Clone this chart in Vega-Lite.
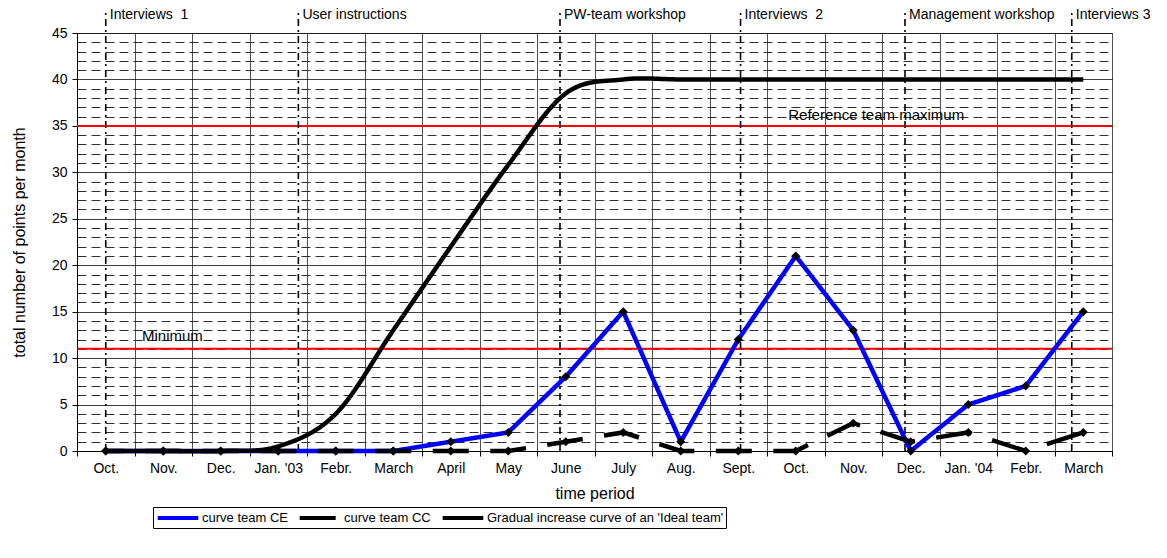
{
  "$schema": "https://vega.github.io/schema/vega-lite/v6.json",
  "autosize": {"type": "none"},
  "width": 1035,
  "height": 418,
  "padding": {"left": 77, "top": 33, "right": 55, "bottom": 107},
  "background": "white",
  "config": {
    "font": "Liberation Sans",
    "view": {"stroke": "#808080", "strokeWidth": 1},
    "text": {"font": "Liberation Sans", "color": "black"},
    "axis": {
      "titleFontSize": 16, "titleFontWeight": "normal", "titleColor": "black",
      "labelFontSize": 14, "labelColor": "black", "labelPadding": 5, "labelOverlap": false, "labelFlush": false,
      "domainColor": "black", "domainWidth": 1, "tickColor": "black", "tickSize": 5, "gridWidth": 1
    }
  },
  "datasets": {
    "series": [
      {"m": 0, "series": "curve team CE", "v": 0},
      {"m": 1, "series": "curve team CE", "v": 0},
      {"m": 2, "series": "curve team CE", "v": 0},
      {"m": 3, "series": "curve team CE", "v": 0},
      {"m": 4, "series": "curve team CE", "v": 0},
      {"m": 5, "series": "curve team CE", "v": 0},
      {"m": 6, "series": "curve team CE", "v": 1},
      {"m": 7, "series": "curve team CE", "v": 2},
      {"m": 8, "series": "curve team CE", "v": 8},
      {"m": 9, "series": "curve team CE", "v": 15},
      {"m": 10, "series": "curve team CE", "v": 1},
      {"m": 11, "series": "curve team CE", "v": 12},
      {"m": 12, "series": "curve team CE", "v": 21},
      {"m": 13, "series": "curve team CE", "v": 13},
      {"m": 14, "series": "curve team CE", "v": 0},
      {"m": 15, "series": "curve team CE", "v": 5},
      {"m": 16, "series": "curve team CE", "v": 7},
      {"m": 17, "series": "curve team CE", "v": 15},
      {"m": 0, "series": "curve team CC", "v": 0},
      {"m": 1, "series": "curve team CC", "v": 0},
      {"m": 2, "series": "curve team CC", "v": 0},
      {"m": 3, "series": "curve team CC", "v": 0},
      {"m": 4, "series": "curve team CC", "v": 0},
      {"m": 5, "series": "curve team CC", "v": 0},
      {"m": 6, "series": "curve team CC", "v": 0},
      {"m": 7, "series": "curve team CC", "v": 0},
      {"m": 8, "series": "curve team CC", "v": 1},
      {"m": 9, "series": "curve team CC", "v": 2},
      {"m": 10, "series": "curve team CC", "v": 0},
      {"m": 11, "series": "curve team CC", "v": 0},
      {"m": 12, "series": "curve team CC", "v": 0},
      {"m": 13, "series": "curve team CC", "v": 3},
      {"m": 14, "series": "curve team CC", "v": 1},
      {"m": 15, "series": "curve team CC", "v": 2},
      {"m": 16, "series": "curve team CC", "v": 0},
      {"m": 17, "series": "curve team CC", "v": 2},
      {"m": 0, "series": "Gradual increase curve of an 'Ideal team'", "v": 0},
      {"m": 1, "series": "Gradual increase curve of an 'Ideal team'", "v": 0},
      {"m": 2, "series": "Gradual increase curve of an 'Ideal team'", "v": 0},
      {"m": 3, "series": "Gradual increase curve of an 'Ideal team'", "v": 0.5},
      {"m": 4, "series": "Gradual increase curve of an 'Ideal team'", "v": 4},
      {"m": 5, "series": "Gradual increase curve of an 'Ideal team'", "v": 13},
      {"m": 6, "series": "Gradual increase curve of an 'Ideal team'", "v": 22},
      {"m": 7, "series": "Gradual increase curve of an 'Ideal team'", "v": 30.8},
      {"m": 8, "series": "Gradual increase curve of an 'Ideal team'", "v": 38.5},
      {"m": 9, "series": "Gradual increase curve of an 'Ideal team'", "v": 40},
      {"m": 10, "series": "Gradual increase curve of an 'Ideal team'", "v": 40},
      {"m": 11, "series": "Gradual increase curve of an 'Ideal team'", "v": 40},
      {"m": 12, "series": "Gradual increase curve of an 'Ideal team'", "v": 40},
      {"m": 13, "series": "Gradual increase curve of an 'Ideal team'", "v": 40},
      {"m": 14, "series": "Gradual increase curve of an 'Ideal team'", "v": 40},
      {"m": 15, "series": "Gradual increase curve of an 'Ideal team'", "v": 40},
      {"m": 16, "series": "Gradual increase curve of an 'Ideal team'", "v": 40},
      {"m": 17, "series": "Gradual increase curve of an 'Ideal team'", "v": 40}
    ],
    "events": [
      {"pos": 0, "label": "Interviews \u00a01"},
      {"pos": 3.35, "label": "User instructions"},
      {"pos": 7.9, "label": "PW-team workshop"},
      {"pos": 11.04, "label": "Interviews \u00a02"},
      {"pos": 13.9, "label": "Management workshop"},
      {"pos": 16.8, "label": "Interviews 3"}
    ],
    "refs": [
      {"level": 35, "label": "Reference team maximum"},
      {"level": 11, "label": "Minimum"}
    ]
  },
  "layer": [
    {
      "data": {"name": "refs"},
      "mark": {"type": "rule", "color": "#FF0000", "strokeWidth": 2},
      "encoding": {
        "y": {"field": "level", "type": "quantitative", "scale": {"domain": [0, 45], "nice": false, "zero": false},
          "axis": {"title": "total number of points per month", "titlePadding": 24,
            "values": [0, 1, 2, 3, 4, 5, 6, 7, 8, 9, 10, 11, 12, 13, 14, 15, 16, 17, 18, 19, 20, 21, 22, 23, 24, 25, 26, 27, 28, 29, 30, 31, 32, 33, 34, 35, 36, 37, 38, 39, 40, 41, 42, 43, 44, 45],
            "labelExpr": "datum.value % 5 === 0 ? datum.label : ''",
            "tickOpacity": {"condition": {"test": "datum.value % 5 === 0", "value": 1}, "value": 0},
            "grid": true,
            "gridColor": {"condition": {"test": "datum.value % 5 === 0", "value": "#000000"}, "value": "#303030"},
            "gridDash": {"condition": {"test": "datum.value % 5 === 0", "value": [1, 0]}, "value": [9, 5]}}}
      }
    },
    {
      "data": {"name": "refs"},
      "transform": [{"filter": "datum.level === 35"}],
      "mark": {"type": "text", "fontSize": 15, "align": "left", "baseline": "alphabetic", "dy": -6},
      "encoding": {
        "x": {"datum": 11.87, "type": "quantitative", "scale": {"domain": [-0.5, 17.5], "nice": false, "zero": false},
          "axis": {"title": "time period", "titlePadding": 10,
            "values": [-0.5, 0, 0.5, 1, 1.5, 2, 2.5, 3, 3.5, 4, 4.5, 5, 5.5, 6, 6.5, 7, 7.5, 8, 8.5, 9, 9.5, 10, 10.5, 11, 11.5, 12, 12.5, 13, 13.5, 14, 14.5, 15, 15.5, 16, 16.5, 17, 17.5],
            "labelExpr": "datum.value % 1 === 0 ? ['Oct.','Nov.','Dec.',\"Jan. '03\",'Febr.','March','April','May','June','July','Aug.','Sept.','Oct.','Nov.','Dec.',\"Jan. '04\",'Febr.','March'][datum.value] : ''",
            "tickOpacity": {"condition": {"test": "datum.value % 1 === 0", "value": 0}, "value": 1},
            "grid": true, "gridColor": "#505050",
            "gridOpacity": {"condition": {"test": "datum.value % 1 === 0", "value": 0}, "value": 1}}},
        "y": {"field": "level", "type": "quantitative", "scale": {"domain": [0, 45], "nice": false, "zero": false},
          "axis": {"title": "total number of points per month", "titlePadding": 24,
            "values": [0, 1, 2, 3, 4, 5, 6, 7, 8, 9, 10, 11, 12, 13, 14, 15, 16, 17, 18, 19, 20, 21, 22, 23, 24, 25, 26, 27, 28, 29, 30, 31, 32, 33, 34, 35, 36, 37, 38, 39, 40, 41, 42, 43, 44, 45],
            "labelExpr": "datum.value % 5 === 0 ? datum.label : ''",
            "tickOpacity": {"condition": {"test": "datum.value % 5 === 0", "value": 1}, "value": 0},
            "grid": true,
            "gridColor": {"condition": {"test": "datum.value % 5 === 0", "value": "#000000"}, "value": "#303030"},
            "gridDash": {"condition": {"test": "datum.value % 5 === 0", "value": [1, 0]}, "value": [9, 5]}}},
        "text": {"field": "label"}
      }
    },
    {
      "data": {"name": "refs"},
      "transform": [{"filter": "datum.level === 11"}],
      "mark": {"type": "text", "fontSize": 15, "align": "left", "baseline": "alphabetic", "dy": -8},
      "encoding": {
        "x": {"datum": 0.63, "type": "quantitative", "scale": {"domain": [-0.5, 17.5], "nice": false, "zero": false},
          "axis": {"title": "time period", "titlePadding": 10,
            "values": [-0.5, 0, 0.5, 1, 1.5, 2, 2.5, 3, 3.5, 4, 4.5, 5, 5.5, 6, 6.5, 7, 7.5, 8, 8.5, 9, 9.5, 10, 10.5, 11, 11.5, 12, 12.5, 13, 13.5, 14, 14.5, 15, 15.5, 16, 16.5, 17, 17.5],
            "labelExpr": "datum.value % 1 === 0 ? ['Oct.','Nov.','Dec.',\"Jan. '03\",'Febr.','March','April','May','June','July','Aug.','Sept.','Oct.','Nov.','Dec.',\"Jan. '04\",'Febr.','March'][datum.value] : ''",
            "tickOpacity": {"condition": {"test": "datum.value % 1 === 0", "value": 0}, "value": 1},
            "grid": true, "gridColor": "#505050",
            "gridOpacity": {"condition": {"test": "datum.value % 1 === 0", "value": 0}, "value": 1}}},
        "y": {"field": "level", "type": "quantitative", "scale": {"domain": [0, 45], "nice": false, "zero": false},
          "axis": {"title": "total number of points per month", "titlePadding": 24,
            "values": [0, 1, 2, 3, 4, 5, 6, 7, 8, 9, 10, 11, 12, 13, 14, 15, 16, 17, 18, 19, 20, 21, 22, 23, 24, 25, 26, 27, 28, 29, 30, 31, 32, 33, 34, 35, 36, 37, 38, 39, 40, 41, 42, 43, 44, 45],
            "labelExpr": "datum.value % 5 === 0 ? datum.label : ''",
            "tickOpacity": {"condition": {"test": "datum.value % 5 === 0", "value": 1}, "value": 0},
            "grid": true,
            "gridColor": {"condition": {"test": "datum.value % 5 === 0", "value": "#000000"}, "value": "#303030"},
            "gridDash": {"condition": {"test": "datum.value % 5 === 0", "value": [1, 0]}, "value": [9, 5]}}},
        "text": {"field": "label"}
      }
    },
    {
      "data": {"name": "events"},
      "mark": {"type": "rule", "color": "black", "strokeWidth": 1.6, "strokeDash": [7, 4, 2, 4]},
      "encoding": {
        "x": {"field": "pos", "type": "quantitative", "scale": {"domain": [-0.5, 17.5], "nice": false, "zero": false},
          "axis": {"title": "time period", "titlePadding": 10,
            "values": [-0.5, 0, 0.5, 1, 1.5, 2, 2.5, 3, 3.5, 4, 4.5, 5, 5.5, 6, 6.5, 7, 7.5, 8, 8.5, 9, 9.5, 10, 10.5, 11, 11.5, 12, 12.5, 13, 13.5, 14, 14.5, 15, 15.5, 16, 16.5, 17, 17.5],
            "labelExpr": "datum.value % 1 === 0 ? ['Oct.','Nov.','Dec.',\"Jan. '03\",'Febr.','March','April','May','June','July','Aug.','Sept.','Oct.','Nov.','Dec.',\"Jan. '04\",'Febr.','March'][datum.value] : ''",
            "tickOpacity": {"condition": {"test": "datum.value % 1 === 0", "value": 0}, "value": 1},
            "grid": true, "gridColor": "#505050",
            "gridOpacity": {"condition": {"test": "datum.value % 1 === 0", "value": 0}, "value": 1}}},
        "y": {"datum": 0, "type": "quantitative", "scale": {"domain": [0, 45], "nice": false, "zero": false},
          "axis": {"title": "total number of points per month", "titlePadding": 24,
            "values": [0, 1, 2, 3, 4, 5, 6, 7, 8, 9, 10, 11, 12, 13, 14, 15, 16, 17, 18, 19, 20, 21, 22, 23, 24, 25, 26, 27, 28, 29, 30, 31, 32, 33, 34, 35, 36, 37, 38, 39, 40, 41, 42, 43, 44, 45],
            "labelExpr": "datum.value % 5 === 0 ? datum.label : ''",
            "tickOpacity": {"condition": {"test": "datum.value % 5 === 0", "value": 1}, "value": 0},
            "grid": true,
            "gridColor": {"condition": {"test": "datum.value % 5 === 0", "value": "#000000"}, "value": "#303030"},
            "gridDash": {"condition": {"test": "datum.value % 5 === 0", "value": [1, 0]}, "value": [9, 5]}}},
        "y2": {"datum": 47.15}
      }
    },
    {
      "data": {"name": "events"},
      "mark": {"type": "text", "fontSize": 14, "align": "left", "baseline": "middle", "dx": 4},
      "encoding": {
        "x": {"field": "pos", "type": "quantitative", "scale": {"domain": [-0.5, 17.5], "nice": false, "zero": false},
          "axis": {"title": "time period", "titlePadding": 10,
            "values": [-0.5, 0, 0.5, 1, 1.5, 2, 2.5, 3, 3.5, 4, 4.5, 5, 5.5, 6, 6.5, 7, 7.5, 8, 8.5, 9, 9.5, 10, 10.5, 11, 11.5, 12, 12.5, 13, 13.5, 14, 14.5, 15, 15.5, 16, 16.5, 17, 17.5],
            "labelExpr": "datum.value % 1 === 0 ? ['Oct.','Nov.','Dec.',\"Jan. '03\",'Febr.','March','April','May','June','July','Aug.','Sept.','Oct.','Nov.','Dec.',\"Jan. '04\",'Febr.','March'][datum.value] : ''",
            "tickOpacity": {"condition": {"test": "datum.value % 1 === 0", "value": 0}, "value": 1},
            "grid": true, "gridColor": "#505050",
            "gridOpacity": {"condition": {"test": "datum.value % 1 === 0", "value": 0}, "value": 1}}},
        "y": {"datum": 46.9, "type": "quantitative", "scale": {"domain": [0, 45], "nice": false, "zero": false},
          "axis": {"title": "total number of points per month", "titlePadding": 24,
            "values": [0, 1, 2, 3, 4, 5, 6, 7, 8, 9, 10, 11, 12, 13, 14, 15, 16, 17, 18, 19, 20, 21, 22, 23, 24, 25, 26, 27, 28, 29, 30, 31, 32, 33, 34, 35, 36, 37, 38, 39, 40, 41, 42, 43, 44, 45],
            "labelExpr": "datum.value % 5 === 0 ? datum.label : ''",
            "tickOpacity": {"condition": {"test": "datum.value % 5 === 0", "value": 1}, "value": 0},
            "grid": true,
            "gridColor": {"condition": {"test": "datum.value % 5 === 0", "value": "#000000"}, "value": "#303030"},
            "gridDash": {"condition": {"test": "datum.value % 5 === 0", "value": [1, 0]}, "value": [9, 5]}}},
        "text": {"field": "label"}
      }
    },
    {
      "data": {"name": "series"},
      "mark": {"type": "line", "strokeWidth": 4.5, "strokeCap": "butt"},
      "transform": [{"filter": "datum.series === 'curve team CE'"}],
      "encoding": {
        "x": {"field": "m", "type": "quantitative", "scale": {"domain": [-0.5, 17.5], "nice": false, "zero": false},
          "axis": {"title": "time period", "titlePadding": 10,
            "values": [-0.5, 0, 0.5, 1, 1.5, 2, 2.5, 3, 3.5, 4, 4.5, 5, 5.5, 6, 6.5, 7, 7.5, 8, 8.5, 9, 9.5, 10, 10.5, 11, 11.5, 12, 12.5, 13, 13.5, 14, 14.5, 15, 15.5, 16, 16.5, 17, 17.5],
            "labelExpr": "datum.value % 1 === 0 ? ['Oct.','Nov.','Dec.',\"Jan. '03\",'Febr.','March','April','May','June','July','Aug.','Sept.','Oct.','Nov.','Dec.',\"Jan. '04\",'Febr.','March'][datum.value] : ''",
            "tickOpacity": {"condition": {"test": "datum.value % 1 === 0", "value": 0}, "value": 1},
            "grid": true, "gridColor": "#505050",
            "gridOpacity": {"condition": {"test": "datum.value % 1 === 0", "value": 0}, "value": 1}}},
        "y": {"field": "v", "type": "quantitative", "scale": {"domain": [0, 45], "nice": false, "zero": false},
          "axis": {"title": "total number of points per month", "titlePadding": 24,
            "values": [0, 1, 2, 3, 4, 5, 6, 7, 8, 9, 10, 11, 12, 13, 14, 15, 16, 17, 18, 19, 20, 21, 22, 23, 24, 25, 26, 27, 28, 29, 30, 31, 32, 33, 34, 35, 36, 37, 38, 39, 40, 41, 42, 43, 44, 45],
            "labelExpr": "datum.value % 5 === 0 ? datum.label : ''",
            "tickOpacity": {"condition": {"test": "datum.value % 5 === 0", "value": 1}, "value": 0},
            "grid": true,
            "gridColor": {"condition": {"test": "datum.value % 5 === 0", "value": "#000000"}, "value": "#303030"},
            "gridDash": {"condition": {"test": "datum.value % 5 === 0", "value": [1, 0]}, "value": [9, 5]}}},
        "color": {
          "field": "series", "type": "nominal",
          "scale": {"domain": ["curve team CE", "curve team CC", "Gradual increase curve of an 'Ideal team'"], "range": ["#0000FF", "#000000", "#000000"]},
          "legend": {
            "title": null, "orient": "none", "legendX": 76, "legendY": 474, "direction": "horizontal",
            "symbolType": "M-2.9,0H2.9", "symbolSize": 196, "symbolStrokeWidth": 4, "symbolOffset": 14,
            "labelFontSize": 13, "labelColor": "black", "labelLimit": 400, "labelOffset": 15,
            "columnPadding": 3, "strokeColor": "black", "padding": 2
          }
        },
        "strokeDash": {
          "field": "series", "type": "nominal",
          "scale": {"domain": ["curve team CE", "curve team CC", "Gradual increase curve of an 'Ideal team'"], "range": [[1, 0], [36, 21.5], [1, 0]]},
          "legend": {
            "title": null, "orient": "none", "legendX": 76, "legendY": 474, "direction": "horizontal",
            "symbolType": "M-2.9,0H2.9", "symbolSize": 196, "symbolStrokeWidth": 4, "symbolOffset": 14,
            "labelFontSize": 13, "labelColor": "black", "labelLimit": 400, "labelOffset": 15,
            "columnPadding": 3, "strokeColor": "black", "padding": 2
          }
        }
      }
    },
    {
      "data": {"name": "series"},
      "transform": [{"filter": "datum.series === 'curve team CC'"}],
      "mark": {"type": "line", "strokeWidth": 4.5, "strokeCap": "butt", "strokeDashOffset": 18},
      "encoding": {
        "x": {"field": "m", "type": "quantitative", "scale": {"domain": [-0.5, 17.5], "nice": false, "zero": false},
          "axis": {"title": "time period", "titlePadding": 10,
            "values": [-0.5, 0, 0.5, 1, 1.5, 2, 2.5, 3, 3.5, 4, 4.5, 5, 5.5, 6, 6.5, 7, 7.5, 8, 8.5, 9, 9.5, 10, 10.5, 11, 11.5, 12, 12.5, 13, 13.5, 14, 14.5, 15, 15.5, 16, 16.5, 17, 17.5],
            "labelExpr": "datum.value % 1 === 0 ? ['Oct.','Nov.','Dec.',\"Jan. '03\",'Febr.','March','April','May','June','July','Aug.','Sept.','Oct.','Nov.','Dec.',\"Jan. '04\",'Febr.','March'][datum.value] : ''",
            "tickOpacity": {"condition": {"test": "datum.value % 1 === 0", "value": 0}, "value": 1},
            "grid": true, "gridColor": "#505050",
            "gridOpacity": {"condition": {"test": "datum.value % 1 === 0", "value": 0}, "value": 1}}},
        "y": {"field": "v", "type": "quantitative", "scale": {"domain": [0, 45], "nice": false, "zero": false},
          "axis": {"title": "total number of points per month", "titlePadding": 24,
            "values": [0, 1, 2, 3, 4, 5, 6, 7, 8, 9, 10, 11, 12, 13, 14, 15, 16, 17, 18, 19, 20, 21, 22, 23, 24, 25, 26, 27, 28, 29, 30, 31, 32, 33, 34, 35, 36, 37, 38, 39, 40, 41, 42, 43, 44, 45],
            "labelExpr": "datum.value % 5 === 0 ? datum.label : ''",
            "tickOpacity": {"condition": {"test": "datum.value % 5 === 0", "value": 1}, "value": 0},
            "grid": true,
            "gridColor": {"condition": {"test": "datum.value % 5 === 0", "value": "#000000"}, "value": "#303030"},
            "gridDash": {"condition": {"test": "datum.value % 5 === 0", "value": [1, 0]}, "value": [9, 5]}}},
        "color": {"field": "series", "type": "nominal", "scale": {"domain": ["curve team CE", "curve team CC", "Gradual increase curve of an 'Ideal team'"], "range": ["#0000FF", "#000000", "#000000"]}},
        "strokeDash": {"field": "series", "type": "nominal", "scale": {"domain": ["curve team CE", "curve team CC", "Gradual increase curve of an 'Ideal team'"], "range": [[1, 0], [36, 21.5], [1, 0]]}}
      }
    },
    {
      "data": {"name": "series"},
      "transform": [{"filter": "datum.series === \"Gradual increase curve of an 'Ideal team'\""}],
      "mark": {"type": "line", "strokeWidth": 4.5, "interpolate": "cardinal", "strokeCap": "butt"},
      "encoding": {
        "x": {"field": "m", "type": "quantitative", "scale": {"domain": [-0.5, 17.5], "nice": false, "zero": false},
          "axis": {"title": "time period", "titlePadding": 10,
            "values": [-0.5, 0, 0.5, 1, 1.5, 2, 2.5, 3, 3.5, 4, 4.5, 5, 5.5, 6, 6.5, 7, 7.5, 8, 8.5, 9, 9.5, 10, 10.5, 11, 11.5, 12, 12.5, 13, 13.5, 14, 14.5, 15, 15.5, 16, 16.5, 17, 17.5],
            "labelExpr": "datum.value % 1 === 0 ? ['Oct.','Nov.','Dec.',\"Jan. '03\",'Febr.','March','April','May','June','July','Aug.','Sept.','Oct.','Nov.','Dec.',\"Jan. '04\",'Febr.','March'][datum.value] : ''",
            "tickOpacity": {"condition": {"test": "datum.value % 1 === 0", "value": 0}, "value": 1},
            "grid": true, "gridColor": "#505050",
            "gridOpacity": {"condition": {"test": "datum.value % 1 === 0", "value": 0}, "value": 1}}},
        "y": {"field": "v", "type": "quantitative", "scale": {"domain": [0, 45], "nice": false, "zero": false},
          "axis": {"title": "total number of points per month", "titlePadding": 24,
            "values": [0, 1, 2, 3, 4, 5, 6, 7, 8, 9, 10, 11, 12, 13, 14, 15, 16, 17, 18, 19, 20, 21, 22, 23, 24, 25, 26, 27, 28, 29, 30, 31, 32, 33, 34, 35, 36, 37, 38, 39, 40, 41, 42, 43, 44, 45],
            "labelExpr": "datum.value % 5 === 0 ? datum.label : ''",
            "tickOpacity": {"condition": {"test": "datum.value % 5 === 0", "value": 1}, "value": 0},
            "grid": true,
            "gridColor": {"condition": {"test": "datum.value % 5 === 0", "value": "#000000"}, "value": "#303030"},
            "gridDash": {"condition": {"test": "datum.value % 5 === 0", "value": [1, 0]}, "value": [9, 5]}}},
        "color": {"field": "series", "type": "nominal", "scale": {"domain": ["curve team CE", "curve team CC", "Gradual increase curve of an 'Ideal team'"], "range": ["#0000FF", "#000000", "#000000"]}},
        "strokeDash": {"field": "series", "type": "nominal", "scale": {"domain": ["curve team CE", "curve team CC", "Gradual increase curve of an 'Ideal team'"], "range": [[1, 0], [36, 21.5], [1, 0]]}}
      }
    },
    {
      "data": {"name": "series"},
      "transform": [{"filter": "datum.series !== \"Gradual increase curve of an 'Ideal team'\""}],
      "mark": {"type": "point", "shape": "diamond", "size": 80, "filled": true, "color": "black", "opacity": 1},
      "encoding": {
        "x": {"field": "m", "type": "quantitative", "scale": {"domain": [-0.5, 17.5], "nice": false, "zero": false},
          "axis": {"title": "time period", "titlePadding": 10,
            "values": [-0.5, 0, 0.5, 1, 1.5, 2, 2.5, 3, 3.5, 4, 4.5, 5, 5.5, 6, 6.5, 7, 7.5, 8, 8.5, 9, 9.5, 10, 10.5, 11, 11.5, 12, 12.5, 13, 13.5, 14, 14.5, 15, 15.5, 16, 16.5, 17, 17.5],
            "labelExpr": "datum.value % 1 === 0 ? ['Oct.','Nov.','Dec.',\"Jan. '03\",'Febr.','March','April','May','June','July','Aug.','Sept.','Oct.','Nov.','Dec.',\"Jan. '04\",'Febr.','March'][datum.value] : ''",
            "tickOpacity": {"condition": {"test": "datum.value % 1 === 0", "value": 0}, "value": 1},
            "grid": true, "gridColor": "#505050",
            "gridOpacity": {"condition": {"test": "datum.value % 1 === 0", "value": 0}, "value": 1}}},
        "y": {"field": "v", "type": "quantitative", "scale": {"domain": [0, 45], "nice": false, "zero": false},
          "axis": {"title": "total number of points per month", "titlePadding": 24,
            "values": [0, 1, 2, 3, 4, 5, 6, 7, 8, 9, 10, 11, 12, 13, 14, 15, 16, 17, 18, 19, 20, 21, 22, 23, 24, 25, 26, 27, 28, 29, 30, 31, 32, 33, 34, 35, 36, 37, 38, 39, 40, 41, 42, 43, 44, 45],
            "labelExpr": "datum.value % 5 === 0 ? datum.label : ''",
            "tickOpacity": {"condition": {"test": "datum.value % 5 === 0", "value": 1}, "value": 0},
            "grid": true,
            "gridColor": {"condition": {"test": "datum.value % 5 === 0", "value": "#000000"}, "value": "#303030"},
            "gridDash": {"condition": {"test": "datum.value % 5 === 0", "value": [1, 0]}, "value": [9, 5]}}}
      }
    }
  ]
}
